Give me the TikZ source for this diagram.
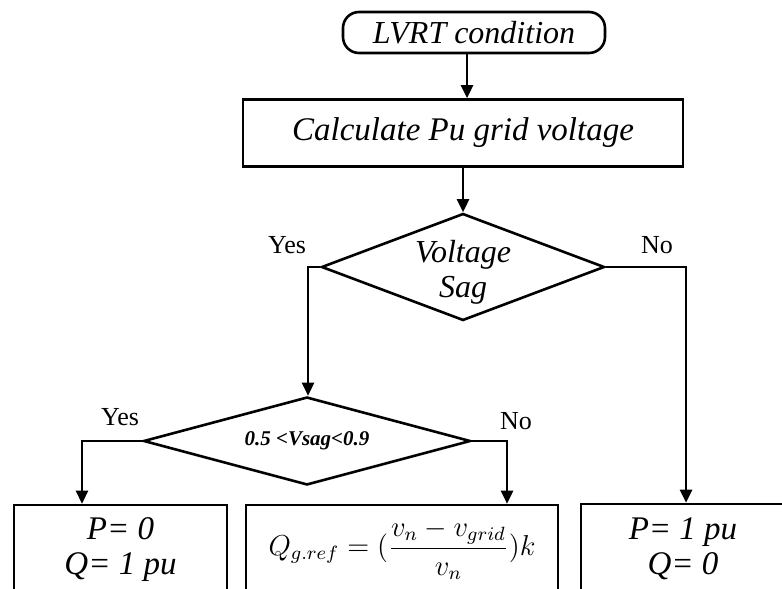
\documentclass[tikz,border=0pt]{standalone}
\usepackage{graphicx}
\usepackage{fontspec}
\setmainfont{Liberation Serif}[
  ItalicFont={Liberation Serif Italic},
  BoldFont={Liberation Serif Bold},
  BoldItalicFont={Liberation Serif Bold Italic}]
\usetikzlibrary{shapes.geometric,arrows.meta,calc}
\begin{document}
\begin{tikzpicture}[x=1pt,y=-1pt,
  flow/.style={draw=black, line width=2.6pt, -{Triangle[length=13pt,width=12pt]}},
  boxstyle/.style={draw=black, line width=2.6pt, rectangle, inner sep=0pt, align=center},
  decide/.style={draw=black, line width=2.6pt, diamond, inner sep=0pt},
  itfont/.style={font=\itshape\fontsize{33}{35}\selectfont},
  lbl/.style={font=\fontsize{26}{28}\selectfont, inner sep=0pt}]
\useasboundingbox (0,0) rectangle (782,589);

\node[boxstyle, rounded corners=16pt, minimum width=262pt, minimum height=41pt,
      font=\itshape\fontsize{32}{34}\selectfont] (lvrt) at (474,32.5) {LVRT condition};
\node[boxstyle, minimum width=440pt, minimum height=67pt, itfont] (calc) at (463,133) {Calculate Pu grid voltage};
\node[decide, minimum width=283pt, minimum height=107pt] (sag) at (463,267) {};
\node[font=\itshape\fontsize{32}{35}\selectfont, align=center, inner sep=0pt] (sagtext) at (463,272) {Voltage\\Sag};
\node[decide, minimum width=327pt, minimum height=88pt] (range) at (307,441) {};
\node[font=\bfseries\itshape\fontsize{21}{24}\selectfont, inner sep=0pt] (rangetext) at (307,441) {0.5 <Vsag<0.9};

\node[boxstyle, minimum width=213pt, minimum height=89pt, itfont] (b1) at (120.5,549.5) {P= 0\\Q= 1 pu};
\node[boxstyle, minimum width=312pt, minimum height=89pt, font=\fontsize{12}{14}\selectfont] (b2) at (402,549.5)
  {\scalebox{2.4}{$\displaystyle Q_{g.ref}=(\frac{v_n-v_{grid}}{v_n})k$}};
\node[boxstyle, minimum width=204pt, minimum height=90pt, itfont] (b3) at (683,549) {P= 1 pu\\Q= 0};

\coordinate (c1) at (308,267);
\coordinate (c2) at (686,267);
\coordinate (c3) at (82,441);
\coordinate (c4) at (507,441);

\draw[flow] ([xshift=-7pt]lvrt.south) -- ([xshift=-7pt]lvrt.south |- calc.north);
\draw[flow] (calc.south) -- (sag.north);
\draw[flow] (sag.west) -- (c1) -- (c1 |- range.north);
\draw[flow] (sag.east) -- (c2) -- (c2 |- b3.north);
\draw[flow] (range.west) -- (c3) -- (c3 |- b1.north);
\draw[flow] (range.east) -- (c4) -- (c4 |- b2.north);

\node[lbl] (yes1) at (287,245) {Yes};
\node[lbl] (no1) at (657,245) {No};
\node[lbl] (yes2) at (120,417) {Yes};
\node[lbl] (no2) at (516,421) {No};
\end{tikzpicture}
\end{document}
